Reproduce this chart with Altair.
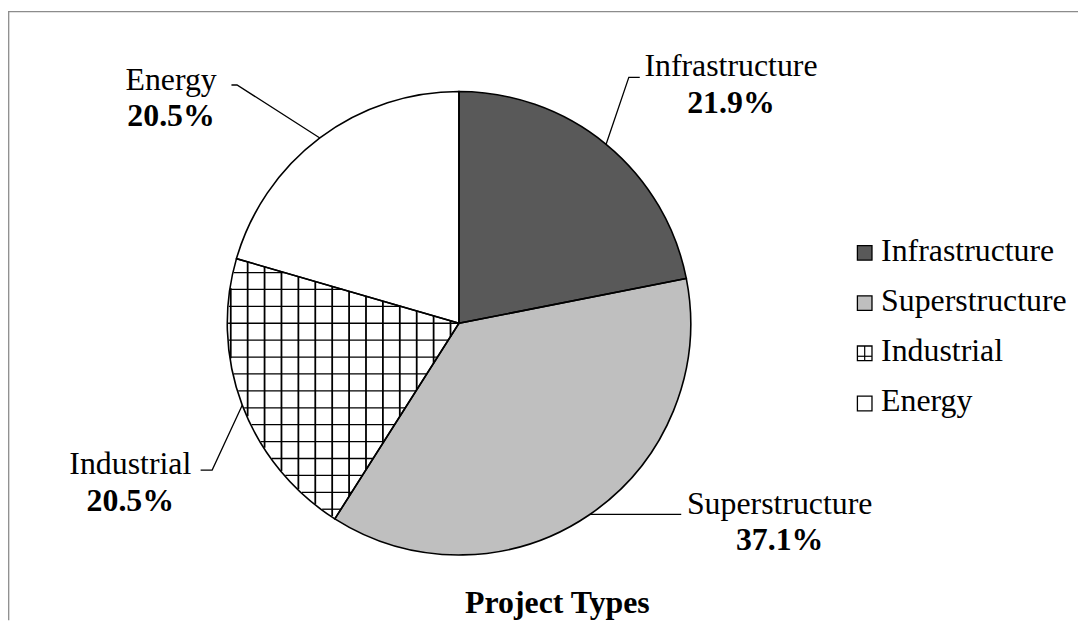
import math
import altair as alt
import pandas as pd

# ---------------- data ----------------
categories = ["Infrastructure", "Superstructure", "Industrial", "Energy"]
shares = [21.9, 37.1, 20.5, 20.5]
fills = ["#595959", "#bfbfbf", "#ffffff", "#ffffff"]
chart_title = "Project Types"

# ---------------- layout ----------------
W, H = 1076, 614
CX, CY, R = 453.5, 315.3, 233
FONT = "Liberation Serif"
FS = 32
GRID = 17.0

# label placement (text centre x, name baseline, pct baseline, leader elbow, leader end)
label_layout = {
    "Infrastructure": (727, 67, 104, (624.3, 68), (635.3, 68)),
    "Superstructure": (776, 507, 543.5, None, (677, 507.5)),
    "Industrial": (123, 467, 504, (205.3, 463), (193.7, 463)),
    "Energy": (164, 81, 117, (230.3, 75.7), (224.7, 75.7)),
}
legend_x_sym, legend_x_text = 861.5, 878
legend_base0, legend_step = 252.5, 50.5

total = sum(shares)
starts, ends = [], []
acc = 0.0
for v in shares:
    starts.append(acc / total * 2 * math.pi)
    acc += v
    ends.append(acc / total * 2 * math.pi)


def on_circle(a, r=R):
    return CX + r * math.sin(a), CY - r * math.cos(a)


xs = alt.Scale(domain=[0, W], nice=False, zero=False)
ys = alt.Scale(domain=[0, H], nice=False, zero=False, reverse=True)
color_scale = alt.Scale(domain=categories, range=fills)

# ---------------- pie ----------------
pie_df = pd.DataFrame({"cat": categories, "share": shares, "idx": list(range(len(categories)))})
pie_fill = alt.Chart(pie_df).mark_arc(radius=R, stroke=None).encode(
    theta=alt.Theta("share:Q", stack=True),
    order=alt.Order("idx:Q"),
    color=alt.Color("cat:N", scale=color_scale, legend=None),
    x=alt.value(CX),
    y=alt.value(CY),
)
pie_stroke = alt.Chart(pie_df).mark_arc(radius=R, fill=None, fillOpacity=0, stroke="black", strokeWidth=1.6).encode(
    theta=alt.Theta("share:Q", stack=True),
    order=alt.Order("idx:Q"),
    x=alt.value(CX),
    y=alt.value(CY),
)

# ---------------- grid hatch in the Industrial slice ----------------
ii = categories.index("Industrial")
a1, a2 = starts[ii], ends[ii]
d1 = (math.sin(a1), -math.cos(a1))
d2 = (math.sin(a2), -math.cos(a2))


def inside(x, y):
    px, py = x - CX, y - CY
    if px * px + py * py > (R - 0.8) ** 2:
        return False
    return d1[0] * py - d1[1] * px >= 0 and px * d2[1] - py * d2[0] >= 0


vrows, hrows = [], []
k = 0
while True:
    gx = CX - GRID / 2 - GRID * k
    if gx < CX - R:
        break
    pts = [CY - R + 0.1 * i for i in range(int(2 * R / 0.1) + 1)]
    ins = [p for p in pts if inside(gx, p)]
    if ins:
        vrows.append({"x": gx, "y": min(ins), "x2": gx, "y2": max(ins)})
    k += 1
for j in range(-15, 16):
    gy = CY + GRID * j
    pts = [CX - R + 0.1 * i for i in range(int(2 * R / 0.1) + 1)]
    ins = [p for p in pts if inside(p, gy)]
    if ins:
        hrows.append({"x": min(ins), "y": gy, "x2": max(ins), "y2": gy})

vgrid = alt.Chart(pd.DataFrame(vrows)).mark_rule(color="black", strokeWidth=1.8).encode(
    x=alt.X("x:Q", scale=xs, axis=None), y=alt.Y("y:Q", scale=ys, axis=None), x2="x2:Q", y2="y2:Q"
)
hgrid = alt.Chart(pd.DataFrame(hrows)).mark_rule(color="black", strokeWidth=1.3).encode(
    x=alt.X("x:Q", scale=xs, axis=None), y=alt.Y("y:Q", scale=ys, axis=None), x2="x2:Q", y2="y2:Q"
)

# ---------------- labels & leaders ----------------
lab_rows, lead_rows = [], []
for i, c in enumerate(categories):
    tx, ny, py, elbow, end = label_layout[c]
    lab_rows.append({"cat": c, "x": tx, "y": ny, "t": c, "w": "normal"})
    lab_rows.append({"cat": c, "x": tx, "y": py, "t": f"{shares[i]:.1f}%", "w": "bold"})
    mid = (starts[i] + ends[i]) / 2
    p0 = on_circle(mid)
    seq = [p0] + ([elbow] if elbow else []) + [end]
    for o, (lx, ly) in enumerate(seq):
        lead_rows.append({"cat": c, "o": o, "x": lx, "y": ly})

lab_df = pd.DataFrame(lab_rows)
names = alt.Chart(lab_df[lab_df.w == "normal"]).mark_text(
    font=FONT, fontSize=FS, align="center", baseline="alphabetic", color="black"
).encode(x=alt.X("x:Q", scale=xs, axis=None), y=alt.Y("y:Q", scale=ys, axis=None), text="t:N")
pcts = alt.Chart(lab_df[lab_df.w == "bold"]).mark_text(
    font=FONT, fontSize=FS, fontWeight="bold", align="center", baseline="alphabetic", color="black"
).encode(x=alt.X("x:Q", scale=xs, axis=None), y=alt.Y("y:Q", scale=ys, axis=None), text="t:N")
leaders = alt.Chart(pd.DataFrame(lead_rows)).mark_line(color="black", strokeWidth=1.3).encode(
    x=alt.X("x:Q", scale=xs, axis=None), y=alt.Y("y:Q", scale=ys, axis=None),
    detail="cat:N", order="o:Q",
)

# ---------------- legend ----------------
leg_rows = []
for i, c in enumerate(categories):
    base = legend_base0 + legend_step * i
    leg_rows.append({"cat": c, "sx": legend_x_sym, "sy": base - 8, "tx": legend_x_text, "ty": base})
leg_df = pd.DataFrame(leg_rows)
leg_sym = alt.Chart(leg_df).mark_square(size=215, stroke="black", strokeWidth=1.3, opacity=1).encode(
    x=alt.X("sx:Q", scale=xs, axis=None), y=alt.Y("sy:Q", scale=ys, axis=None),
    color=alt.Color("cat:N", scale=color_scale, legend=None),
)
leg_txt = alt.Chart(leg_df).mark_text(
    font=FONT, fontSize=FS, align="left", baseline="alphabetic", color="black"
).encode(x=alt.X("tx:Q", scale=xs, axis=None), y=alt.Y("ty:Q", scale=ys, axis=None), text="cat:N")

ind = leg_rows[ii]
half = 7.3
sym_lines = pd.DataFrame([
    {"x": ind["sx"], "y": ind["sy"] - half, "x2": ind["sx"], "y2": ind["sy"] + half},
    {"x": ind["sx"] - half, "y": ind["sy"] + 3, "x2": ind["sx"] + half, "y2": ind["sy"] + 3},
])
leg_pat = alt.Chart(sym_lines).mark_rule(color="black", strokeWidth=1.2).encode(
    x=alt.X("x:Q", scale=xs, axis=None), y=alt.Y("y:Q", scale=ys, axis=None), x2="x2:Q", y2="y2:Q"
)

# ---------------- title & frame ----------------
title_df = pd.DataFrame([{"x": 552.5, "y": 607, "t": chart_title}])
title = alt.Chart(title_df).mark_text(
    font=FONT, fontSize=FS, fontWeight="bold", align="center", baseline="alphabetic", color="black"
).encode(x=alt.X("x:Q", scale=xs, axis=None), y=alt.Y("y:Q", scale=ys, axis=None), text="t:N")

frame_df = pd.DataFrame([
    {"x": 0, "y": 2, "x2": W, "y2": 2},
    {"x": 0.7, "y": 2, "x2": 0.7, "y2": H},
])
frame = alt.Chart(frame_df).mark_rule(color="#8c8c8c", strokeWidth=1.3).encode(
    x=alt.X("x:Q", scale=xs, axis=None), y=alt.Y("y:Q", scale=ys, axis=None), x2="x2:Q", y2="y2:Q"
)

chart = alt.layer(
    frame, pie_fill, vgrid, hgrid, pie_stroke, leaders, names, pcts, leg_sym, leg_pat, leg_txt, title
).properties(
    width=W, height=H, padding=0, autosize=alt.AutoSizeParams(type="none"), background="white"
).configure_view(stroke=None)

chart.save("out.html", embed_options={"renderer": "svg", "actions": False})
